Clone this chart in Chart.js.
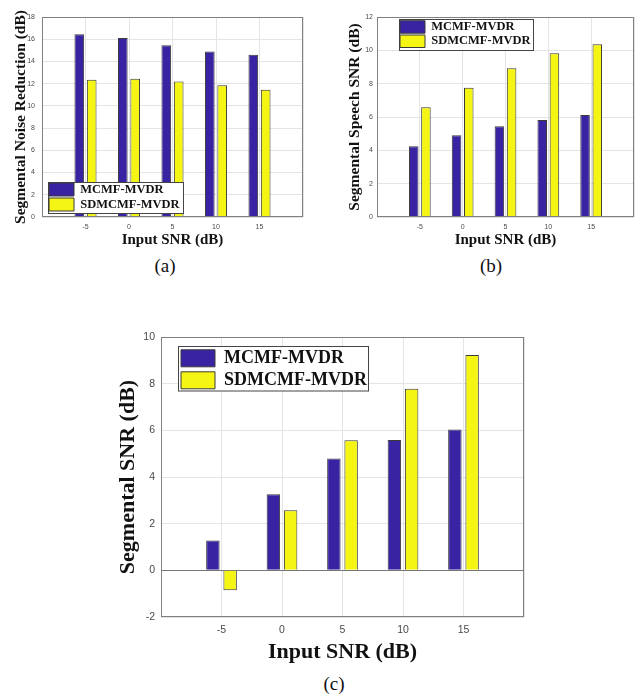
<!DOCTYPE html>
<html><head><meta charset="utf-8">
<script src="https://cdn.jsdelivr.net/npm/chart.js@4.4.1/dist/chart.umd.min.js"></script>
<style>
html,body{margin:0;padding:0;background:#fff;}
body{width:640px;height:696px;position:relative;overflow:hidden;}
canvas{position:absolute;}
.cap{position:absolute;font-family:'Liberation Serif','Times New Roman',serif;font-size:19px;color:#111;text-align:center;width:60px;line-height:22px;}
</style></head><body>
<canvas id="chartA" width="320" height="252" style="left:0px;top:0px"></canvas>
<canvas id="chartB" width="320" height="252" style="left:320px;top:0px"></canvas>
<canvas id="chartC" width="440" height="350" style="left:100px;top:320px"></canvas>
<div class="cap" style="left:135px;top:255px">(a)</div>
<div class="cap" style="left:461px;top:255px">(b)</div>
<div class="cap" style="left:304px;top:673px">(c)</div>
<script>
// ---- data ----
const categories = ['-5', '0', '5', '10', '15'];
const axisEnds = ['-10', '20'];
const seriesNames = ['MCMF-MVDR', 'SDMCMF-MVDR'];
const mcmfNoiseRed = [16.45, 16.1, 15.45, 14.9, 14.6];
const sdmcmfNoiseRed = [12.35, 12.45, 12.2, 11.85, 11.45];
const mcmfSpeechSNR = [4.25, 4.9, 5.45, 5.82, 6.12];
const sdmcmfSpeechSNR = [6.58, 7.76, 8.92, 9.82, 10.36];
const mcmfSegSNR = [1.28, 3.26, 4.79, 5.59, 6.04];
const sdmcmfSegSNR = [-0.85, 2.58, 5.58, 7.78, 9.23];
const yTitles = ['Segmental Noise Reduction (dB)', 'Segmental Speech SNR (dB)', 'Segmental SNR (dB)'];
const xTitle = 'Input SNR (dB)';

// ---- styling ----
const BLUE = '#3a23a3', YELLOW = '#f5f514', EDGE = '#3a3a3a';
const SERIF = "'Liberation Serif','Times New Roman',serif";
const SANS = "'Liberation Sans',Arial,sans-serif";
const xLabels = [axisEnds[0], ...categories, axisEnds[1]];
const pad = arr => [null, ...arr, null];

const framePlugin = {
  id: 'matlabFrame',
  afterLayout(chart, args, o) {
    const lg = chart.legend, a = chart.chartArea, f = o.legend;
    const p = o.legendPadding;
    lg.left = a.left + f.x + f.ix - p;
    lg.top = a.top + f.y + f.iy - p;
    lg.width = f.w + 60; lg.height = f.h + 20;
    lg.right = lg.left + lg.width; lg.bottom = lg.top + lg.height;
  },
  afterDatasetsDraw(chart, args, o) {
    const ctx = chart.ctx, a = chart.chartArea, f = o.legend;
    ctx.save();
    ctx.strokeStyle = o.color; ctx.lineWidth = 1;
    const L = Math.round(a.left) + 0.5, T = Math.round(a.top) + 0.5;
    const R = Math.round(a.right) - 0.5, B = Math.round(a.bottom) - 0.5;
    ctx.strokeRect(L, T, R - L, B - T);
    const fx = Math.round(a.left + f.x) + 0.5, fy = Math.round(a.top + f.y) + 0.5;
    ctx.fillStyle = '#fff';
    ctx.fillRect(fx, fy, f.w, f.h);
    ctx.strokeStyle = '#444';
    ctx.strokeRect(fx, fy, f.w, f.h);
    ctx.restore();
    chart.legend.draw(chart.chartArea);
  }
};

function makeChart(id, s) {
  return new Chart(document.getElementById(id), {
    type: 'bar',
    data: {
      labels: xLabels,
      datasets: [
        { label: seriesNames[0], data: pad(s.a), backgroundColor: BLUE, borderColor: EDGE, borderWidth: 1 },
        { label: seriesNames[1], data: pad(s.b), backgroundColor: YELLOW, borderColor: EDGE, borderWidth: 1 }
      ]
    },
    options: {
      responsive: false,
      animation: false,
      events: [],
      layout: { padding: { top: s.padTop, right: s.padRight, left: 0, bottom: 0 } },
      datasets: { bar: { categoryPercentage: 0.57, barPercentage: 0.78 } },
      plugins: {
        tooltip: { enabled: false },
        legend: {
          position: 'chartArea',
          align: 'start',
          labels: {
            boxWidth: s.lg.bw, boxHeight: s.lg.bh, padding: s.lg.pad,
            color: '#111', font: { family: SERIF, weight: 'bold', size: s.lg.fs }
          }
        },
        matlabFrame: { color: '#808080', legend: s.lg.frame, legendPadding: s.lg.pad }
      },
      scales: {
        x: {
          offset: false,
          grid: { offset: false, color: '#e4e4e4', drawTicks: false },
          border: { display: false },
          ticks: {
            autoSkip: false, maxRotation: 0, minRotation: 0, padding: s.xtp,
            color: '#4a4a4a', font: { family: SANS, size: s.tfs },
            callback: (v, i) => (i === 0 || i === xLabels.length - 1) ? '' : xLabels[i]
          },
          title: {
            display: true, text: xTitle, color: '#111',
            font: { family: SERIF, weight: 'bold', size: s.xfs },
            padding: { top: 0, bottom: s.xTitlePad }
          },
          afterFit: sc => { sc.height = s.xh; }
        },
        y: {
          min: s.min, max: s.max,
          grid: {
            color: c => (c.tick && c.tick.value === 0 && s.min < 0) ? '#777' : '#e4e4e4',
            drawTicks: false
          },
          border: { display: false },
          ticks: {
            stepSize: 2, padding: s.ytp, color: '#4a4a4a',
            font: { family: SANS, size: s.tfs }
          },
          title: {
            display: true, text: s.yTitle, color: '#111',
            font: { family: SERIF, weight: 'bold', size: s.yfs },
            padding: { top: s.yTitlePad, bottom: 0 }
          },
          afterFit: sc => { sc.width = s.yw; }
        }
      }
    },
    plugins: [framePlugin]
  });
}

makeChart('chartA', {
  a: mcmfNoiseRed, b: sdmcmfNoiseRed, min: 0, max: 18, yTitle: yTitles[0],
  padTop: 17, padRight: 17, yw: 42, xh: 35,
  tfs: 7, xtp: 6, ytp: 7, xfs: 15, yfs: 15.5, xTitlePad: 2.5, yTitlePad: 12,
  lg: { bw: 25, bh: 13, pad: 2, fs: 12.5, frame: { x: 5.7, y: 165, w: 135, h: 31, ix: 1.3, iy: 1 } }
});
makeChart('chartB', {
  a: mcmfSpeechSNR, b: sdmcmfSpeechSNR, min: 0, max: 12, yTitle: yTitles[1],
  padTop: 17, padRight: 3, yw: 57, xh: 35,
  tfs: 7, xtp: 6, ytp: 4, xfs: 15, yfs: 15.5, xTitlePad: 2.5, yTitlePad: 25.8,
  lg: { bw: 25, bh: 12.5, pad: 1.8, fs: 12.5, frame: { x: 21.7, y: 2.3, w: 134, h: 31, ix: 1.3, iy: 1.4 } }
});
makeChart('chartC', {
  a: mcmfSegSNR, b: sdmcmfSegSNR, min: -2, max: 10, yTitle: yTitles[2],
  padTop: 17, padRight: 16, yw: 61, xh: 53,
  tfs: 10.5, xtp: 6.5, ytp: 6, xfs: 22, yfs: 22, xTitlePad: 4.8, yTitlePad: 14.8,
  lg: { bw: 34, bh: 17, pad: 4, fs: 18, frame: { x: 17, y: 9, w: 190, h: 44.5, ix: 3, iy: 3.3 } }
});
</script>
</body></html>
